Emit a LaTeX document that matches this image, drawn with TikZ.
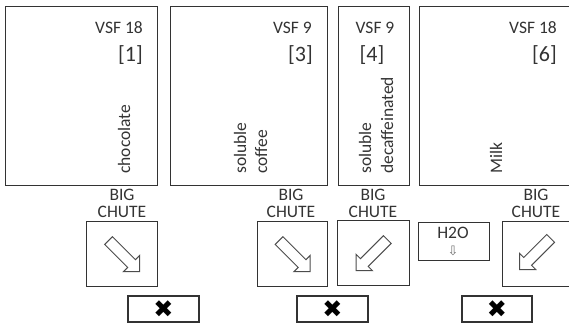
\documentclass[tikz,border=0pt]{standalone}
\usepackage{fontspec}
\setmainfont{Carlito}
\newfontfamily\symfont{DejaVu Sans}
\usetikzlibrary{shapes.arrows}
\begin{document}
\begin{tikzpicture}[x=1pt,y=-1pt,
  box/.style={draw=black!80,line width=1.4pt,inner sep=0pt,anchor=north west},
  lbl/.style={font=\fontsize{17.5}{21}\selectfont,text=black!80,inner sep=0pt},
  num/.style={font=\fontsize{22}{26}\selectfont,text=black!80,inner sep=0pt},
  vtext/.style={lbl,rotate=90,anchor=base west},
  chutelbl/.style={inner sep=0pt,text=black!80,align=center,font=\fontsize{17.5}{17}\selectfont},
  chutearrow/.style={single arrow,draw=black!70,line width=1pt,minimum height=44pt,inner sep=5pt,single arrow head extend=6pt},
  xbtn/.style={box,anchor=center,minimum height=26pt},
  xmark/.style={inner sep=0pt,anchor=center,font=\symfont\fontsize{24}{24}\selectfont,text=black},
  smallarrow/.style={inner sep=0pt,font=\symfont\fontsize{13}{13}\selectfont,text=black!55}]
\path[use as bounding box] (0,0) rectangle (569,325);
% containers
\node[box,minimum width=152pt,minimum height=179pt] (b1) at (5,6) {};
\node[box,minimum width=157pt,minimum height=179pt] (b3) at (170,6) {};
\node[box,minimum width=71pt,minimum height=179pt] (b4) at (338,6) {};
\node[box,minimum width=156pt,minimum height=179pt] (b6) at (419,6) {};
% labels in containers
\node[lbl,anchor=base east] (v1) at (143,33) {VSF 18};
\node[num,anchor=base east] (n1) at (143,61) {[1]};
\node[vtext] (t1) at (130,174) {chocolate};
\node[lbl,anchor=base east] (v3) at (312,33) {VSF 9};
\node[num,anchor=base east] (n3) at (313,61) {[3]};
\node[vtext] (t3a) at (246,174) {soluble};
\node[vtext] (t3b) at (267,174) {coffee};
\node[lbl,anchor=base] (v4) at (375,33) {VSF 9};
\node[num,anchor=base] (n4) at (372,61) {[4]};
\node[vtext] (t4a) at (371,174) {soluble};
\node[vtext] (t4b) at (393,174) {decaffeinated};
\node[lbl,anchor=base east] (v6) at (557,33) {VSF 18};
\node[num,anchor=base east] (n6) at (557,61) {[6]};
\node[vtext] (t6) at (502,174) {Milk};
% chute labels
\node[chutelbl] (l1) at (122,203.5) {BIG\\CHUTE};
\node[chutelbl] (l3) at (291,203.5) {BIG\\CHUTE};
\node[chutelbl] (l4) at (373,203.5) {BIG\\CHUTE};
\node[chutelbl] (l6) at (536,203.5) {BIG\\CHUTE};
% chutes
\node[box,minimum width=71pt,minimum height=65pt] (c1) at (86,221) {};
\node[box,minimum width=70pt,minimum height=65pt] (c3) at (257,221) {};
\node[box,minimum width=72pt,minimum height=65pt] (c4) at (337,220) {};
\node[box,minimum width=72pt,minimum height=65pt] (c6) at (502,221) {};
\node[chutearrow,rotate=-45] (a1) at (c1.center) {};
\node[chutearrow,rotate=-45] (a3) at (c3.center) {};
\node[chutearrow,rotate=-135] (a4) at (c4.center) {};
\node[chutearrow,rotate=-135] (a6) at (537,252) {};
% water
\node[box,minimum width=71pt,minimum height=38pt] (h) at (418,222) {};
\node[lbl] (ht) at (453,233) {H2O};
\node[smallarrow] (ha) at (453,251) {⇩};
% cancel buttons
\node[xbtn,minimum width=71pt] (x1) at (163.5,309) {};
\node[xbtn,minimum width=71pt] (x3) at (332.5,309) {};
\node[xbtn,minimum width=70pt] (x6) at (497,309) {};
\node[xmark] (x1t) at (x1.center) {✖};
\node[xmark] (x3t) at (x3.center) {✖};
\node[xmark] (x6t) at (x6.center) {✖};
\end{tikzpicture}
\end{document}
